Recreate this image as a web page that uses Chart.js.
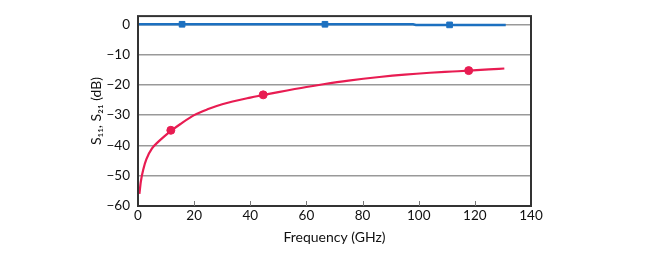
<!DOCTYPE html>
<html>
<head>
<meta charset="utf-8">
<script src="https://cdn.jsdelivr.net/npm/chart.js@4/dist/chart.umd.min.js"></script>
<style>
  html, body { margin: 0; padding: 0; background: #fff; }
  #wrap { width: 650px; height: 257px; }
</style>
</head>
<body>
<div id="wrap"><canvas id="chart"></canvas></div>
<script>
// S11 curve (red)
const s11Freq = [0.5, 1, 2, 3, 5, 7, 10, 12, 15, 20, 25, 30, 40, 45, 50, 60, 66, 75, 86, 95, 104, 112, 118, 125, 130.5];
const s11Db   = [-56, -52, -47.5, -44.5, -41, -39, -36.5, -35, -33, -30, -28, -26.4, -24.2, -23.3, -22.4, -20.7, -19.8, -18.6, -17.4, -16.6, -16, -15.6, -15.3, -14.9, -14.6];
const s11MarkFreq = [11.7, 44.6, 117.8];
const s11MarkDb   = [-35, -23.3, -15.3];

// S21 curve (blue)
const s21Freq = [0, 30, 52, 53, 98, 99, 131];
const s21Db   = [0, 0, 0, 0, 0, -0.2, -0.2];
const s21MarkFreq = [15.7, 66.6, 111];
const s21MarkDb   = [0, 0, -0.2];

const xTicks = [0, 20, 40, 60, 80, 100, 120, 140];
const yTicks = [-60, -50, -40, -30, -20, -10, 0];

const red = 'rgb(232, 28, 82)';
const blue = 'rgb(28, 112, 192)';
const font = { family: 'Lato, "Noto Sans", sans-serif', size: 13.5 };
const titleFont = { family: 'Lato, "Noto Sans", sans-serif', size: 14 };

const zip = (xs, ys) => xs.map((x, i) => ({ x: x, y: ys[i] }));

const frame = {
    id: 'frame',
    afterDatasetsDraw(chart) {
        const ctx = chart.ctx;
        const a = chart.chartArea;
        const xs = chart.scales.x;
        ctx.save();
        ctx.strokeStyle = '#333';
        ctx.lineWidth = 2;
        ctx.strokeRect(a.left, a.top, a.right - a.left, a.bottom - a.top);
        // inward ticks on the frequency axis
        ctx.strokeStyle = '#777';
        ctx.lineWidth = 1;
        xTicks.forEach(v => {
            if (v === 0 || v === 140) return;
            const px = Math.round(xs.getPixelForValue(v)) + 0.5;
            ctx.beginPath();
            ctx.moveTo(px, a.bottom);
            ctx.lineTo(px, a.bottom - 5);
            ctx.stroke();
        });
        ctx.restore();
    }
};

new Chart(document.getElementById('chart'), {
    type: 'scatter',
    plugins: [frame],
    data: {
        datasets: [
            {
                label: 'S21',
                data: zip(s21Freq, s21Db),
                showLine: true,
                borderColor: blue,
                borderWidth: 2.5,
                pointRadius: 0,
                fill: false
            },
            {
                label: 'S21 markers',
                data: zip(s21MarkFreq, s21MarkDb),
                pointStyle: 'rect',
                pointRadius: 4,
                backgroundColor: blue,
                borderColor: blue
            },
            {
                label: 'S11',
                data: zip(s11Freq, s11Db),
                showLine: true,
                borderColor: red,
                borderWidth: 2.2,
                pointRadius: 0,
                cubicInterpolationMode: 'monotone',
                fill: false
            },
            {
                label: 'S11 markers',
                data: zip(s11MarkFreq, s11MarkDb),
                pointStyle: 'circle',
                pointRadius: 4,
                backgroundColor: red,
                borderColor: red
            }
        ]
    },
    options: {
        responsive: true,
        maintainAspectRatio: false,
        animation: { duration: 0 },
        layout: { padding: { left: 86, right: 119, top: 15, bottom: 0 } },
        plugins: {
            legend: { display: false },
            tooltip: { enabled: false }
        },
        scales: {
            x: {
                type: 'linear',
                min: 0,
                max: 140,
                afterBuildTicks: s => { s.ticks = xTicks.map(v => ({ value: v })); },
                afterFit: s => { s.height = 51; },
                grid: { display: false, drawTicks: false },
                border: { display: false },
                ticks: { color: '#111', font: font, padding: 2, maxRotation: 0 },
                title: { display: true, text: 'Frequency (GHz)', color: '#111', font: titleFont, padding: { top: 0, bottom: 11 } }
            },
            y: {
                min: -60,
                max: 2.7,
                afterBuildTicks: s => { s.ticks = yTicks.map(v => ({ value: v })); },
                afterFit: s => { s.width = 52; },
                grid: {
                    color: ctx => (ctx.tick && ctx.tick.value === -60) ? 'rgba(0,0,0,0)' : '#999',
                    lineWidth: 1.5,
                    drawTicks: false
                },
                border: { display: false },
                ticks: {
                    color: '#111',
                    font: font,
                    padding: 8,
                    callback: v => String(v).replace('-', '\u2212')
                },
                title: { display: true, text: 'S\u2081\u2081, S\u2082\u2081 (dB)', color: '#111', font: titleFont, padding: { top: 2, bottom: 0 } }
            }
        }
    }
});
</script>
</body>
</html>
